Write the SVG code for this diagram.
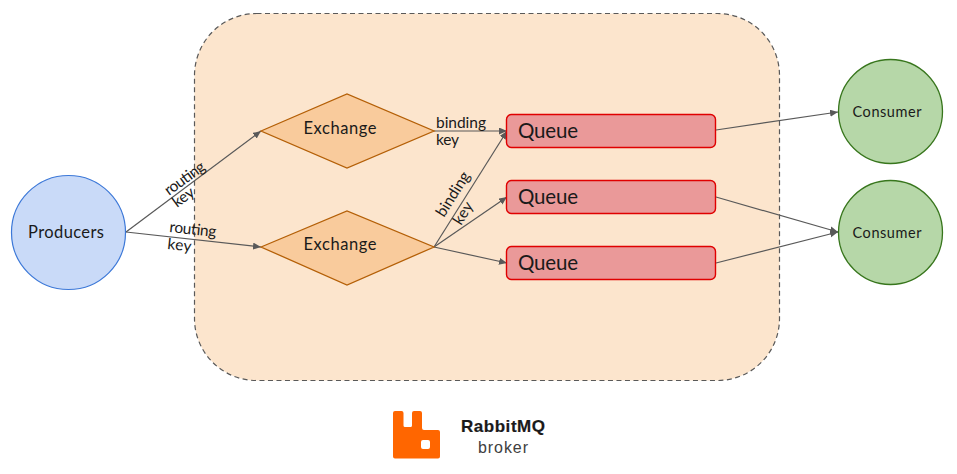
<svg xmlns="http://www.w3.org/2000/svg" width="957" height="474" viewBox="0 0 957 474">
<style>
text{font-family:Lato,"Open Sans","Liberation Sans",sans-serif;fill:#1a1a1a}
.c{text-anchor:middle}
.e{fill:#f9cb9c;stroke:#b45f06;stroke-width:1.3}
.q{fill:#ea9999;stroke:#e00000;stroke-width:1.4}
.g{fill:#b6d7a8;stroke:#38761d;stroke-width:1.3}
.l{fill:none;stroke:#595959;stroke-width:1.2;marker-end:url(#a)}
.k{font-size:15.500px}
.qt{font-size:20.500px}
</style>
<defs><marker id="a" markerUnits="userSpaceOnUse" markerWidth="9" markerHeight="8" refX="8" refY="3.5" orient="auto"><path d="M0 0L8 3.5L0 7Z" fill="#595959"/></marker></defs>
<rect id="broker" x="194.500" y="13.500" width="585" height="367" rx="62" ry="62" fill="#fce5cd" stroke="#595959" stroke-width="1.200" stroke-dasharray="5 3.500"/>
<g id="connectors">
<path class="l" d="M126 232L261 131"/>
<path class="l" d="M126 232L261 247"/>
<path class="l" d="M434 131H507"/>
<path class="l" d="M434 247L507 131"/>
<path class="l" d="M434 247L507 197"/>
<path class="l" d="M434 247L507 263"/>
<path class="l" d="M716 130L838 112"/>
<path class="l" d="M716 197L838 232"/>
<path class="l" d="M716 263L838 232"/>
</g>
<g id="producers"><circle cx="68.500" cy="232.500" r="57" fill="#c9daf8" stroke="#3c78d8" stroke-width="1.200"/><text class="c" x="66" y="238" font-size="16.500" textLength="76">Producers</text></g>
<g id="exchange1"><polygon class="e" points="261,131 347,94 434,131 347,168"/><text class="c" x="340" y="134" font-size="16.500" textLength="73">Exchange</text></g>
<g id="exchange2"><polygon class="e" points="261,247 347,211 434,247 347,285"/><text class="c" x="340" y="250" font-size="16.500" textLength="73">Exchange</text></g>
<g id="queue1"><rect class="q" x="506.500" y="114.500" width="209" height="33" rx="5"/><text x="518" y="138" class="qt" textLength="60">Queue</text></g>
<g id="queue2"><rect class="q" x="506.500" y="180.500" width="209" height="33" rx="5"/><text x="518" y="204" class="qt" textLength="60">Queue</text></g>
<g id="queue3"><rect class="q" x="506.500" y="246.500" width="209" height="33" rx="5"/><text x="518" y="270" class="qt" textLength="60">Queue</text></g>
<g id="consumer1"><circle class="g" cx="890.500" cy="111.500" r="52"/><text class="c" x="887" y="117" font-size="14.500" textLength="69">Consumer</text></g>
<g id="consumer2"><circle class="g" cx="890.500" cy="232.500" r="52"/><text class="c" x="887" y="238" font-size="14.500" textLength="69">Consumer</text></g>
<g id="labels">
<text class="k" transform="translate(169 196) rotate(-36)" textLength="46">routing</text>
<text class="k" transform="translate(177 208) rotate(-36)" textLength="23">key</text>
<text class="k" transform="translate(169 232) rotate(6)" textLength="47">routing</text>
<text class="k" transform="translate(167 249) rotate(6)" textLength="24">key</text>
<text class="k" x="436" y="128" textLength="50">binding</text>
<text class="k" x="436" y="145" textLength="23">key</text>
<text class="k" transform="translate(444 218) rotate(-58)" textLength="50">binding</text>
<text class="k" transform="translate(461 226) rotate(-58)" textLength="24">key</text>
</g>
<g id="logo">
<path fill-rule="evenodd" fill="#f60" d="M395 411H401.500Q403.500 411 403.500 413V425.500Q403.500 427 405 427H410.500Q412 427 412 425.500V413Q412 411 414 411H420Q422 411 422 413V428Q422 430 424 430H438Q440 430 440 432V456.500Q440 458.500 438 458.500H395Q393 458.500 393 456.500V413Q393 411 395 411ZM423 440Q421 440 421 442V447Q421 449 423 449H428Q430 449 430 447V442Q430 440 428 440Z"/>
<text x="503" y="432" class="c" font-size="17" font-weight="700" style="font-family:'Liberation Sans',sans-serif" textLength="84" stroke="#1a1a1a" stroke-width=".2">RabbitMQ</text>
<text x="503" y="453" class="c" font-size="16" style="font-family:'Liberation Sans',sans-serif;fill:#404040" textLength="50">broker</text>
</g>
</svg>
